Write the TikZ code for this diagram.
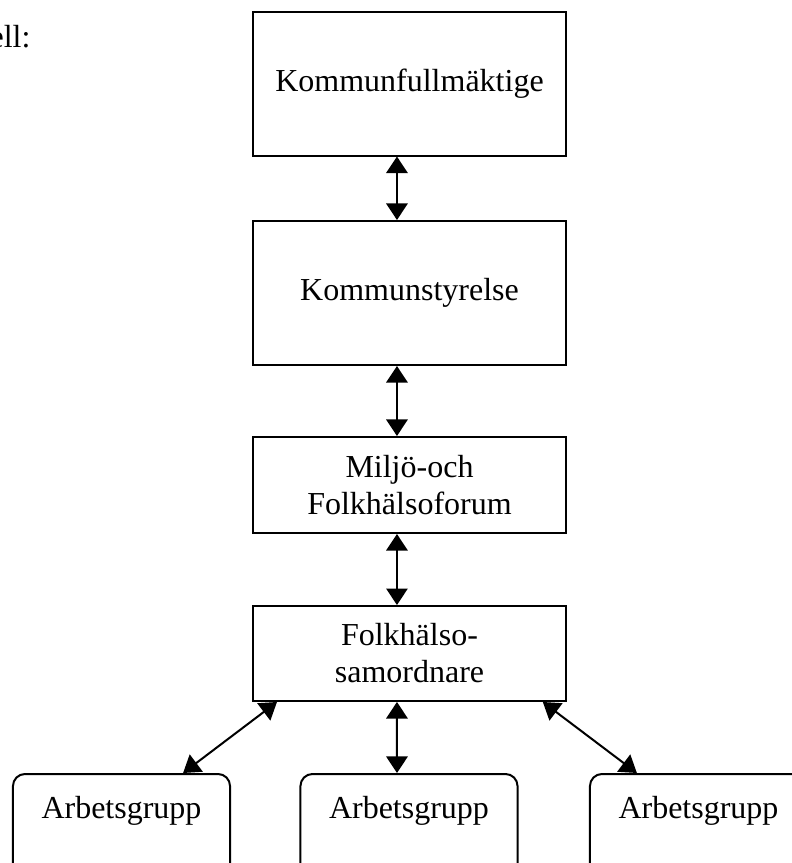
\documentclass[tikz,border=0pt]{standalone}
\usepackage{fontspec}
\setmainfont{Liberation Serif}
\usetikzlibrary{arrows.meta}

\begin{document}
\begin{tikzpicture}[x=0.375pt, y=-0.375pt,
    box/.style={draw, line width=0.75pt, minimum width=117.4pt, align=center, inner sep=0pt, font=\fontsize{12}{13.9}\selectfont},
    group/.style={draw, line width=0.75pt, rounded corners=4.5pt, minimum width=81.4pt, inner xsep=0pt, inner ysep=8.2pt, text height=8.3pt, text depth=30pt, anchor=north, font=\fontsize{12}{13.9}\selectfont},
    arr/.style={draw, line width=0.75pt, >={Triangle[width=8pt,length=6.2pt]}, <->}]
    \useasboundingbox (0,0) rectangle (792,863);
    \clip (0,0) rectangle (792,863);

    \node[anchor=base east, inner sep=0pt, font=\fontsize{12}{13.9}\selectfont] (lbl) at (31,47) {ell:};

    \node[box, minimum height=54pt] (kf) at (409.5,83.5) {Kommunfullmäktige};
    \node[box, minimum height=54pt] (ks) at (409.5,293) {Kommunstyrelse};
    \node[box, minimum height=36pt] (mf) at (409.5,485) {Miljö-och\\Folkhälsoforum};
    \node[box, minimum height=35.6pt] (fs) at (409.5,653.5) {Folkhälso-\\samordnare};

    \node[group] (agone) at (121.5,773) {Arbetsgrupp};
    \node[group] (agtwo) at (409,773) {Arbetsgrupp};
    \node[group] (agthree) at (698.5,773) {Arbetsgrupp};

    \draw[arr] ([xshift=-4.7pt]kf.south) -- ([xshift=-4.7pt]ks.north);
    \draw[arr] ([xshift=-4.7pt]ks.south) -- ([xshift=-4.7pt]mf.north);
    \draw[arr] ([xshift=-4.7pt]mf.south) -- ([xshift=-4.7pt]fs.north);

    \draw[arr] ([xshift=-49.7pt]fs.south) -- ([xshift=23.1pt]agone.north);
    \draw[arr] ([xshift=-4.7pt]fs.south) -- ([xshift=-4.5pt]agtwo.north);
    \draw[arr] ([xshift=50pt]fs.south) -- ([xshift=-23.1pt]agthree.north);
  \end{tikzpicture}
\end{document}
